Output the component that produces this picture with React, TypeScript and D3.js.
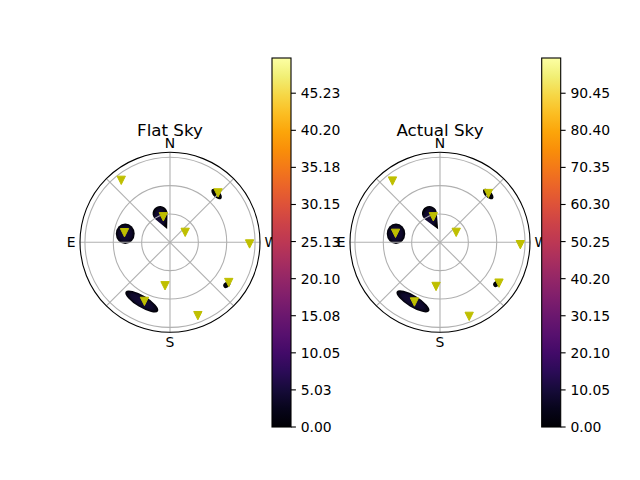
// @ts-nocheck
import React from 'react';
import * as d3 from 'd3';

// satellite positions: azimuth (deg from N toward E) and zenith angle (deg)
const flatAz = [38.2, 315.8, 14.7, 78.1, 303.2, 268.8, 235.6, 173.5, 156.6, 200.8];
const flatZen = [83.4, 72.9, 27.9, 49.2, 19.2, 84.2, 75.3, 46.3, 68.1, 83.0];
const actualAz = [37.8, 315.2, 14.7, 78.6, 301.5, 268.3, 235.3, 174.9, 156.8, 201.5];
const actualZen = [82.0, 72.7, 27.9, 48.0, 20.1, 85.0, 75.9, 46.9, 68.7, 84.2];

// low-value patches of the sky map: [az, zen, rx, ry, rotation, peak value]
const flatPatches = [
  [79.2, 48.2, 10, 10.8, 0, 5],
  [154.5, 69.3, 20, 6.3, 31, 5],
  [316.0, 71.0, 7, 3.6, 45, 1],
  [233.2, 75.0, 4, 3, -35, 1],
];
const actualPatches = [
  [79.0, 47.4, 9.8, 10.8, 0, 10],
  [155.4, 68.7, 20, 6.3, 31, 10],
  [315.0, 72.2, 7, 3.6, 45, 2],
  [233.8, 74.3, 4, 3, -35, 2],
];
// tear-shaped patch: [headAz, headZen, headRadius, tailAz, tailZen, peak value]
const flatDrops = [[19, 32.3, 7.9, 12, 14.5, 5]];
const actualDrops = [[20.2, 32.5, 7.9, 8, 14, 10]];

const flatTicks = [0, 5.03, 10.05, 15.08, 20.1, 25.13, 30.15, 35.18, 40.2, 45.23];
const actualTicks = [0, 10.05, 20.1, 30.15, 40.2, 50.25, 60.3, 70.35, 80.4, 90.45];
const flatMax = 50;
const actualMax = 100;

const rGrid = [30, 60, 90];
const thetaGrid = [0, 45, 90, 135, 180, 225, 270, 315];
const compass = [['N', 0], ['E', 90], ['S', 180], ['W', 270]];

const R = 90;
const rMax = 95.2;
const font = 'DejaVu Sans, sans-serif';

const Panel = ({ id, title, cx, cy, az, zen, patches, drops, cbX, ticks, max }) => {
  const r = d3.scaleLinear().domain([0, rMax]).range([0, R]);
  const pt = (a, z) => {
    const t = (a * Math.PI) / 180;
    return [cx - r(z) * Math.sin(t), cy - r(z) * Math.cos(t)];
  };
  const color = (v) => d3.interpolateInferno(v / max);

  const cbTop = 58, cbBot = 427, cbW = 19;
  const y = d3.scaleLinear().domain([0, max]).range([cbBot, cbTop]);
  const stops = d3.range(0, 1.0001, 0.05);

  const dropPath = (d) => {
    const [hx, hy] = pt(d[0], d[1]);
    const [tx, ty] = pt(d[3], d[4]);
    const a = r(d[2]);
    const th = Math.atan2(ty - hy, tx - hx);
    const dist = Math.hypot(tx - hx, ty - hy);
    const ph = Math.acos(Math.min(1, a / dist));
    const p1 = [hx + a * Math.cos(th + ph), hy + a * Math.sin(th + ph)];
    const p2 = [hx + a * Math.cos(th - ph), hy + a * Math.sin(th - ph)];
    return `M${tx},${ty}L${p1[0]},${p1[1]}A${a},${a} 0 1 1 ${p2[0]},${p2[1]}Z`;
  };

  return (
    <g>
      <defs>
        <clipPath id={`clip-${id}`}>
          <circle cx={cx} cy={cy} r={R} />
        </clipPath>
        <linearGradient id={`cb-${id}`} x1="0" y1="1" x2="0" y2="0">
          {stops.map((s) => (
            <stop key={s} offset={s} stopColor={d3.interpolateInferno(s)} />
          ))}
        </linearGradient>
        {[...patches, ...drops].map((p, i) => (
          <radialGradient key={i} id={`g-${id}-${i}`} cx="0.5" cy="0.5" r="0.5">
            <stop offset="0" stopColor={color(p[5])} />
            <stop offset="0.65" stopColor={color(p[5] * 0.75)} />
            <stop offset="1" stopColor={color(0)} />
          </radialGradient>
        ))}
      </defs>

      <circle cx={cx} cy={cy} r={R} fill="white" />
      <g clipPath={`url(#clip-${id})`}>
        {patches.map((p, i) => {
          const [px, py] = pt(p[0], p[1]);
          return (
            <ellipse key={i} cx={px} cy={py} rx={r(p[2])} ry={r(p[3])}
              transform={`rotate(${p[4]},${px},${py})`} fill={`url(#g-${id}-${i})`} />
          );
        })}
        {drops.map((d, i) => (
          <path key={i} d={dropPath(d)} fill={`url(#g-${id}-${patches.length + i})`} />
        ))}
      </g>

      {/* grid */}
      {rGrid.map((g) => (
        <circle key={g} cx={cx} cy={cy} r={r(g)} fill="none" stroke="#b0b0b0" strokeWidth={1.1} />
      ))}
      {thetaGrid.map((a) => {
        const [x2, y2] = pt(a, rMax);
        return <line key={a} x1={cx} y1={cy} x2={x2} y2={y2} stroke="#b0b0b0" strokeWidth={1.1} />;
      })}
      <circle cx={cx} cy={cy} r={R} fill="none" stroke="black" strokeWidth={1.1} />

      {/* satellites */}
      {az.map((a, i) => {
        const [px, py] = pt(a, zen[i]);
        return (
          <path key={i} d="M-4.17,-4.17L4.17,-4.17L0,4.17Z" transform={`translate(${px},${py})`}
            fill="#bfbf00" stroke="#bfbf00" strokeWidth={1} strokeLinejoin="miter" />
        );
      })}

      {/* compass labels */}
      {compass.map(([t, a]) => {
        const [px, py] = pt(a, rMax + 4.8);
        const anchor = a === 90 ? 'end' : a === 270 ? 'start' : 'middle';
        const base = a === 0 ? 'auto' : a === 180 ? 'hanging' : 'central';
        return (
          <text key={t} x={px} y={py} textAnchor={anchor} dominantBaseline={base}
            fontFamily={font} fontSize={13.9}>{t}</text>
        );
      })}
      <text x={cx} y={136} textAnchor="middle" fontFamily={font} fontSize={16.7}>{title}</text>

      {/* colorbar */}
      <rect x={cbX} y={cbTop} width={cbW} height={cbBot - cbTop} fill={`url(#cb-${id})`}
        stroke="black" strokeWidth={1.1} />
      {ticks.map((t) => (
        <g key={t} transform={`translate(${cbX + cbW},${y(t)})`}>
          <line x1={0} x2={4.9} stroke="black" strokeWidth={1.1} />
          <text x={9.7} dominantBaseline="central" fontFamily={font} fontSize={13.9}>
            {t.toFixed(2)}
          </text>
        </g>
      ))}
    </g>
  );
};

export default function App() {
  return (
    <svg width={640} height={480} style={{ position: 'absolute', left: 0, top: 0, background: 'white' }}>
      <rect width={640} height={480} fill="white" />
      <Panel id="flat" title="Flat Sky" cx={170} cy={242.3} az={flatAz} zen={flatZen}
        patches={flatPatches} drops={flatDrops} cbX={272} ticks={flatTicks} max={flatMax} />
      <Panel id="actual" title="Actual Sky" cx={440} cy={242.3} az={actualAz} zen={actualZen}
        patches={actualPatches} drops={actualDrops} cbX={541.7} ticks={actualTicks} max={actualMax} />
    </svg>
  );
}
